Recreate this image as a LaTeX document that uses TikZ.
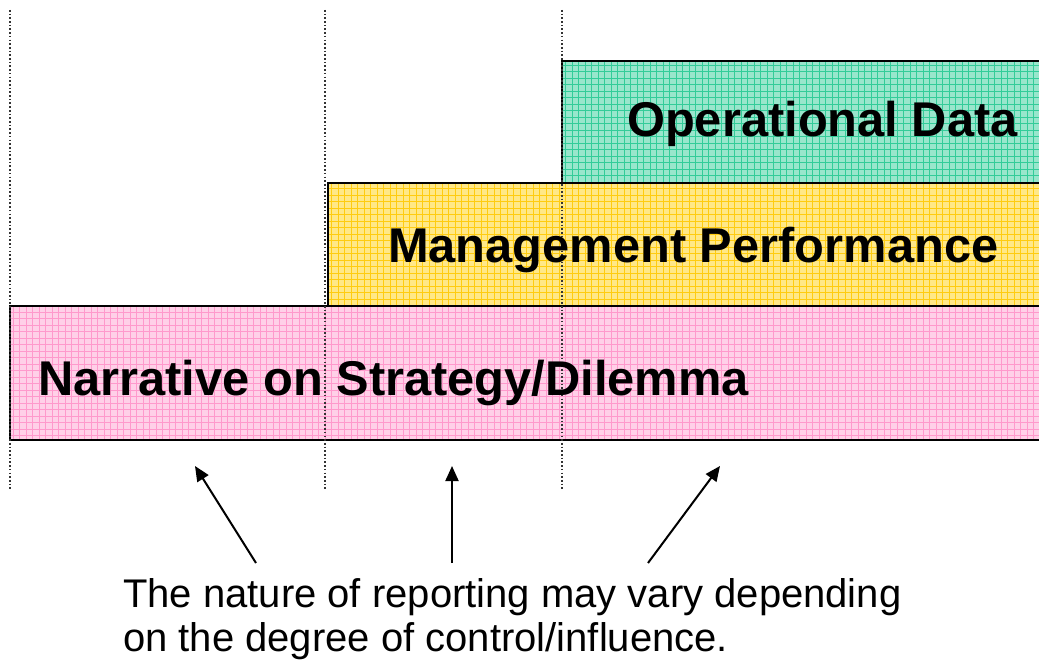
\documentclass[tikz,border=0pt]{standalone}
\usepackage{fontspec}
\setmainfont{Liberation Sans}
\usetikzlibrary{arrows.meta}
\definecolor{pinkbg}{HTML}{FFD0E8}
\definecolor{pinkln}{HTML}{FF99CC}
\definecolor{yelbg}{HTML}{FFE888}
\definecolor{yelln}{HTML}{FFCC11}
\definecolor{grnbg}{HTML}{99E6CC}
\definecolor{grnln}{HTML}{33CC99}
\definecolor{dotgray}{HTML}{333333}
\tikzset{
  band/.style={draw=black, line width=2.6bp},
  label/.style={font=\fontsize{48.8bp}{58bp}\selectfont\bfseries, anchor=base west, inner sep=0},
  note/.style={font=\fontsize{40bp}{44bp}\selectfont, anchor=base west, inner sep=0, align=left},
  divider/.style={dotgray, line width=1.2bp, dash pattern=on 1.6bp off 2.1bp},
  pointer/.style={line width=2bp, -{Triangle[length=15bp,width=13bp]}}
}
\newcommand{\gridband}[6]{%
  \begin{scope}
    \clip (#1,#2) rectangle (#3,#4);
    \fill[#5] (#1,#2) rectangle (#3,#4);
    \foreach \gx in {0,6.5,...,1100} {\draw[#6, line width=0.9bp] (\gx,0) -- (\gx,660);}
    \foreach \gy in {0,6.5,...,660} {\draw[#6, line width=0.9bp] (0,\gy) -- (1100,\gy);}
  \end{scope}
  \draw[band] (#1,#2) rectangle (#3,#4);
}
\begin{document}
\begin{tikzpicture}[x=1bp,y=-1bp]
\clip (0,0) rectangle (1039,660);
\fill[white] (0,0) rectangle (1039,660);
% bands
\gridband{562}{61}{1050}{183}{grnbg}{grnln}
\gridband{328}{183}{1050}{306}{yelbg}{yelln}
\gridband{10}{306}{1050}{440}{pinkbg}{pinkln}
% dividers
\coordinate (d1t) at (10,10);  \coordinate (d1b) at (10,490);
\coordinate (d2t) at (325,10); \coordinate (d2b) at (325,490);
\coordinate (d3t) at (562,10); \coordinate (d3b) at (562,490);
\draw[divider] (d1t) -- (d1b);
\draw[divider] (d2t) -- (d2b);
\draw[divider] (d3t) -- (d3b);
% labels
\node[label] (op) at (627,137) {Operational Data};
\node[label] (mp) at (388,262) {Management Performance};
\node[label] (nr) at (38,395) {Narrative on Strategy/Dilemma};
% note
\node[note] (nt) at (123,651) {The nature of reporting may vary depending\\on the degree of control/influence.};
% arrows
\coordinate (s1) at (256,563); \coordinate (e1) at (195,466);
\coordinate (s2) at (452,563); \coordinate (e2) at (452,466);
\coordinate (s3) at (648,563); \coordinate (e3) at (720,466);
\draw[pointer] (s1) -- (e1);
\draw[pointer] (s2) -- (e2);
\draw[pointer] (s3) -- (e3);
\end{tikzpicture}
\end{document}
